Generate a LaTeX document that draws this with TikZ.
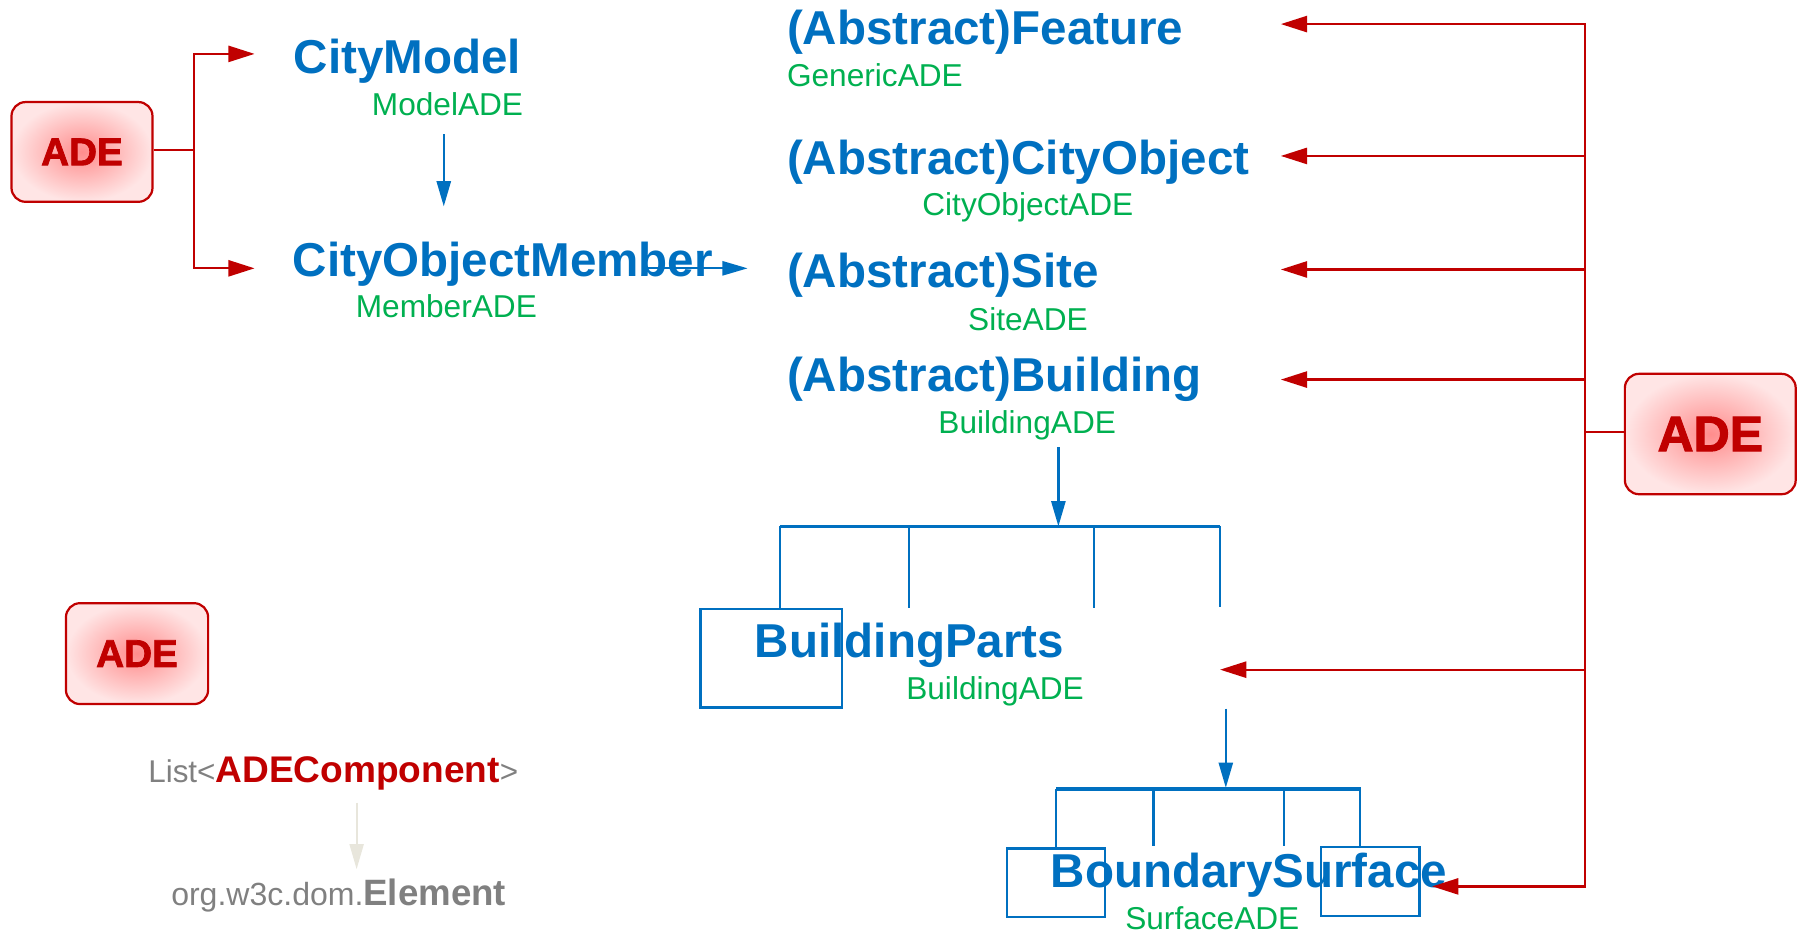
\documentclass[tikz,border=0pt]{standalone}
\usepackage{fontspec}
\setmainfont{Liberation Sans}
\newfontfamily\heavyfont[FakeBold=2]{Liberation Sans Bold}
\usetikzlibrary{arrows.meta,shapes,positioning}
\definecolor{adeblue}{RGB}{0,112,192}
\definecolor{adegreen}{RGB}{0,176,80}
\definecolor{adered}{RGB}{192,0,0}
\definecolor{adegray}{RGB}{128,128,128}
\definecolor{adebeige}{RGB}{232,230,220}

\begin{document}
\begin{tikzpicture}[x=0.02cm,y=-0.02cm]
                    \tikzstyle{every node}+=[inner sep=0pt]
                    \tikzstyle{cls}=[anchor=base west,text=adeblue,font=\fontsize{23.6}{28}\selectfont\bfseries]
                    \tikzstyle{sub}=[anchor=base west,text=adegreen,font=\fontsize{15.7}{19}\selectfont]
                    \tikzstyle{adebox}=[draw=adered,line width=1.1pt,rounded corners=7pt,inner color=red!45,outer color=red!10,text=adered]
                    \tikzstyle{frame}=[draw=adeblue,line width=1.1pt,anchor=north west]
                    \tikzstyle{redline}=[draw=adered,line width=1.1pt]
                    \tikzstyle{redarrow}=[redline,-{Triangle[length=13pt,width=8pt]}]
                    \tikzstyle{blueline}=[draw=adeblue,line width=1.1pt]
                    \tikzstyle{bluebar}=[draw=adeblue,line width=1.7pt]
                    \tikzstyle{bluearrow}=[blueline,-{Triangle[length=12.5pt,width=7pt]}]
                    \useasboundingbox (0,0) rectangle (1568,818);
                    % ADE boxes
                    \node [adebox,minimum width=2.46cm,minimum height=1.74cm,font=\fontsize{19.2}{22}\heavyfont] (adeleft) at (71.5,132.5) {ADE};
                    \node [adebox,minimum width=2.98cm,minimum height=2.1cm,font=\fontsize{24.8}{29}\heavyfont] (aderight) at (1491.5,378.5) {ADE};
                    \node [adebox,minimum width=2.48cm,minimum height=1.76cm,font=\fontsize{19.2}{22}\heavyfont] (adelow) at (119.5,570) {ADE};
                    % classes
                    \node [cls] (citymodel) at (256,64.5) {CityModel};
                    \node [sub] (modelade) at (324,101) {ModelADE};
                    \node [cls] (cityobjmember) at (255,241) {CityObjectMember};
                    \node [sub] (memberade) at (310,277) {MemberADE};
                    \node [cls] (feature) at (686,39) {(Abstract)Feature};
                    \node [sub] (genericade) at (686,75) {GenericADE};
                    \node [cls] (cityobject) at (686,152) {(Abstract)CityObject};
                    \node [sub] (cityobjectade) at (804,188) {CityObjectADE};
                    \node [cls] (site) at (686,251) {(Abstract)Site};
                    \node [sub] (siteade) at (844,288) {SiteADE};
                    \node [cls] (building) at (686,341) {(Abstract)Building};
                    \node [sub] (buildingade) at (818,378) {BuildingADE};
                    \node [frame,minimum width=2.46cm,minimum height=1.72cm] (partsframe) at (610,530) {};
                    \node [cls] (parts) at (658,573) {BuildingParts};
                    \node [sub] (partsade) at (790,610) {BuildingADE};
                    \node [frame,minimum width=1.72cm,minimum height=1.2cm] (surfframea) at (877,739) {};
                    \node [frame,minimum width=1.72cm,minimum height=1.2cm] (surfframeb) at (1151,738) {};
                    \node [cls] (surface) at (916,774) {BoundarySurface};
                    \node [sub] (surfaceade) at (981,811) {SurfaceADE};
                    \node [anchor=base west,text=adegray,font=\fontsize{15.6}{19}\selectfont] (adelist) at (129,682.5) {List<\textcolor{adered}{\fontsize{18.4}{21}\selectfont\bfseries ADEComponent}>};
                    \node [anchor=base west,text=adegray,font=\fontsize{15.9}{19}\selectfont] (element) at (149,790) {org.w3c.dom.{\fontsize{18.2}{21}\selectfont\bfseries Element}};
                    % junctions
                    \coordinate (lsplit) at (169,130.8);
                    \coordinate (cmin) at (222,47);
                    \coordinate (comin) at (222,234);
                    \coordinate (rsplit) at (1382,377);
                    \coordinate (featin) at (1117,21);
                    \coordinate (cobjin) at (1117,136);
                    \coordinate (sitein) at (1117,235);
                    \coordinate (bldgin) at (1117,331);
                    \coordinate (partsin) at (1064,584);
                    \coordinate (surfin) at (1249,773);
                    % left ADE
                    \draw [redline] (adeleft.east |- lsplit) -- (lsplit);
                    \draw [redarrow] (lsplit) |- (cmin);
                    \draw [redarrow] (lsplit) |- (comin);
                    % right ADE
                    \draw [redline] (aderight.west |- rsplit) -- (rsplit);
                    \draw [redarrow] (rsplit) |- (featin);
                    \draw [redarrow] (rsplit) |- (cobjin);
                    \draw [redarrow] (rsplit) |- (sitein);
                    \draw [redarrow] (rsplit) |- (bldgin);
                    \draw [redarrow] (rsplit) |- (partsin);
                    \draw [redarrow] (rsplit) |- (surfin);
                    % blue arrows
                    \draw [bluearrow] (387,117) -- (387,180);
                    \draw [bluearrow] (565,234) -- (652,234);
                    \draw [bluearrow] (923,390) -- (923,459);
                    \draw [bluebar] (680,459) -- (1064,459);
                    \draw [blueline] (680,459) -- (partsframe.north -| 680,0);
                    \draw [blueline] (793,459) -- (793,530);
                    \draw [blueline] (954,459) -- (954,530);
                    \draw [blueline] (1064,459) -- (1064,529);
                    \draw [bluearrow] (1069,618) -- (1069,687);
                    \draw [bluebar] (921,688) -- (1187,688);
                    \draw [blueline] (921,688) -- (surfframea.north -| 921,0);
                    \draw [blueline] (1006,688) -- (1006,738);
                    \draw [blueline] (1120,688) -- (1120,738);
                    \draw [blueline] (1186,688) -- (surfframeb.north -| 1186,0);
                    % list to element
                    \draw [draw=adebeige,line width=1pt,-{Triangle[length=12.5pt,width=7pt]}] (311,700) -- (311,758);
                \end{tikzpicture}
\end{document}
